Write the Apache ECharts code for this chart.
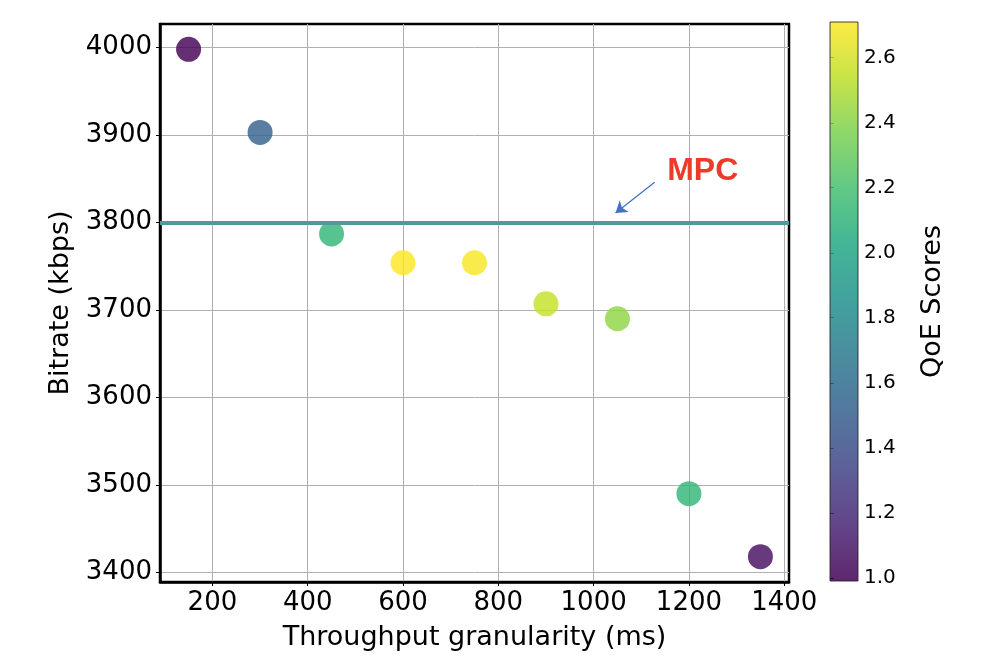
<!DOCTYPE html>
<html>

<head>
    <meta charset="utf-8">
    <title>QoE scatter</title>
    <style>
        html, body { margin: 0; padding: 0; background: #fff; }
        #big { width: 994px; height: 670px; }
    </style>
</head>

<body>
    <div id="big"></div>
    <script src="https://cdn.jsdelivr.net/npm/echarts@6/dist/echarts.min.js"></script>
    <script>
    // data
    var granularity = [150, 300, 450, 600, 750, 900, 1050, 1200, 1350];
    var bitrate = [3998, 3903, 3787, 3754, 3754, 3707, 3690, 3490, 3418];
    var qoe = [0.99, 1.52, 2.12, 2.71, 2.70, 2.56, 2.42, 2.12, 1.06];
    var xTicks = [200, 400, 600, 800, 1000, 1200, 1400];
    var yTicks = [3400, 3500, 3600, 3700, 3800, 3900, 4000];
    var barTicks = [1.0, 1.2, 1.4, 1.6, 1.8, 2.0, 2.2, 2.4, 2.6];
    var qoeRange = [0.99, 2.71];

    // MPC reference line + annotation (data coords)
    var mpcLevel = 3800;
    var arrowFrom = [1128, 3846];
    var arrowTo = [1046, 3811];
    var mpcLabelAt = [1229, 3859];

    var viridis = ['#440154', '#482475', '#414487', '#355f8d', '#2a788e', '#21918c',
        '#22a884', '#44bf70', '#7ad151', '#bddf26', '#fde725'];

    var points = granularity.map(function(x, i) {
        return [x, bitrate[i], qoe[i]];
    });

    var FONT = 'DejaVu Sans';
    var myEcharts = echarts.init(document.getElementById('big'));

    var gradStops = viridis.map(function(c, i) {
        return { offset: i / (viridis.length - 1), color: c };
    });

    function plain(v) { return String(v); }

    var options = {
        animation: false,
        grid: [{
            left: 160, right: 205, top: 24, bottom: 88,
            show: true, borderColor: '#000', borderWidth: 2.5, containLabel: false
        }, {
            left: 830, width: 28, top: 22, bottom: 89, containLabel: false
        }],
        visualMap: {
            type: 'continuous',
            show: false,
            seriesIndex: 0,
            dimension: 2,
            min: qoeRange[0],
            max: qoeRange[1],
            inRange: { color: viridis }
        },
        xAxis: [{
            type: 'value',
            min: 90, max: 1410,
            splitNumber: 6,
            name: 'Throughput granularity (ms)',
            nameLocation: 'middle',
            nameGap: 42,
            nameTextStyle: { fontFamily: FONT, fontSize: 27, color: '#000' },
            axisLine: { show: true, onZero: false, lineStyle: { color: '#000', width: 2.5 } },
            axisTick: { show: true, customValues: xTicks, length: 4, lineStyle: { color: '#000' } },
            axisLabel: { customValues: xTicks, margin: 8, fontFamily: FONT, fontSize: 26, color: '#000', formatter: plain },
            splitLine: { show: true, lineStyle: { color: '#b0b0b0', width: 1 } }
        }, {
            type: 'value', gridIndex: 1, min: 0, max: 1, show: false
        }],
        yAxis: [{
            type: 'value',
            min: 3389, max: 4027,
            splitNumber: 6,
            name: 'Bitrate (kbps)',
            nameLocation: 'middle',
            nameGap: 79,
            nameTextStyle: { fontFamily: FONT, fontSize: 27, color: '#000' },
            axisLine: { show: true, onZero: false, lineStyle: { color: '#000', width: 2.5 } },
            axisTick: { show: true, customValues: yTicks, length: 4, lineStyle: { color: '#000' } },
            axisLabel: { customValues: yTicks, margin: 8, fontFamily: FONT, fontSize: 26, color: '#000', formatter: plain },
            splitLine: { show: true, lineStyle: { color: '#b0b0b0', width: 1 } }
        }, {
            type: 'value',
            gridIndex: 1,
            position: 'right',
            min: qoeRange[0], max: qoeRange[1],
            name: 'QoE Scores',
            nameLocation: 'middle',
            nameRotate: 90,
            nameGap: 61,
            nameTextStyle: { fontFamily: FONT, fontSize: 27, color: '#000' },
            axisLine: { show: false },
            axisTick: { show: true, customValues: barTicks, length: 4, lineStyle: { color: '#000' } },
            axisLabel: {
                customValues: barTicks, margin: 6, fontFamily: FONT, fontSize: 20, color: '#000',
                formatter: function(v) { return v.toFixed(1); }
            },
            splitLine: { show: false }
        }],
        series: [{
            type: 'scatter',
            data: points,
            symbolSize: 25,
            itemStyle: { opacity: 0.82 },
            z: 3,
            markLine: {
                silent: true,
                symbol: 'none',
                label: { show: false },
                lineStyle: { color: '#4f9a9b', width: 4, type: 'solid' },
                data: [{ yAxis: mpcLevel }]
            }
        }, {
            // arrow + label for MPC
            type: 'line',
            data: [],
            markLine: {
                silent: true,
                symbol: ['none', 'arrow'],
                symbolSize: 11,
                label: { show: false },
                lineStyle: { color: '#4472c4', width: 1.3, type: 'solid' },
                data: [[{ coord: arrowFrom }, { coord: arrowTo }]]
            },
            markPoint: {
                silent: true,
                symbol: 'circle',
                symbolSize: 0,
                label: {
                    show: true,
                    formatter: 'MPC',
                    position: 'inside',
                    fontFamily: 'Liberation Sans',
                    fontWeight: 'bold',
                    fontSize: 32,
                    color: '#ec3a2b'
                },
                data: [{ coord: mpcLabelAt }]
            }
        }, {
            // colour bar drawn through its own axis
            type: 'custom',
            xAxisIndex: 1,
            yAxisIndex: 1,
            silent: true,
            data: [[0, qoeRange[0], qoeRange[1]]],
            renderItem: function(params, api) {
                var lo = api.coord([0, api.value(1)]);
                var hi = api.coord([1, api.value(2)]);
                return {
                    type: 'rect',
                    shape: { x: lo[0], y: hi[1], width: hi[0] - lo[0], height: lo[1] - hi[1] },
                    style: {
                        fill: new echarts.graphic.LinearGradient(0, 1, 0, 0, gradStops),
                        stroke: '#222',
                        lineWidth: 1,
                        opacity: 0.85
                    }
                };
            }
        }]
    };
    myEcharts.setOption(options);
    </script>
</body>

</html>
